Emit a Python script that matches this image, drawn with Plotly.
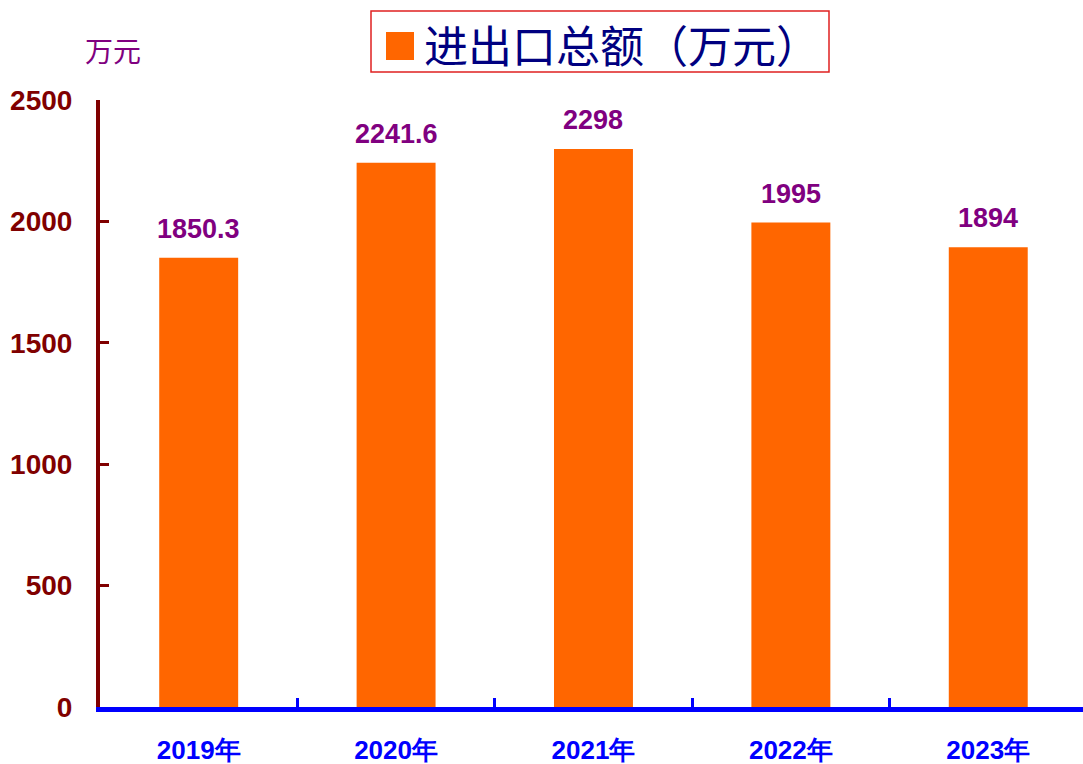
import plotly.graph_objects as go

years = ["2019年", "2020年", "2021年", "2022年", "2023年"]
values = [1850.3, 2241.6, 2298, 1995, 1894]
value_labels = ["1850.3", "2241.6", "2298", "1995", "1894"]
series_name = "进出口总额（万元）"
y_ticks = [0, 500, 1000, 1500, 2000, 2500]
unit_label = "万元"

W, H = 1083, 764
ml, mr, mt, mb = 100, 0, 100, 57
pw = W - ml - mr
ph = H - mt - mb

def px_x(p):
    return (p - ml) / pw

def px_y(p):
    return (H - mb - p) / ph

fig = go.Figure()
fig.add_trace(go.Bar(
    x=years, y=values, width=0.4,
    marker=dict(color="#FF6600", line=dict(width=0)),
    showlegend=False, name=series_name,
))

for xv, yv, lab in zip(years, values, value_labels):
    fig.add_annotation(
        x=xv, y=yv, text=lab, showarrow=False, yanchor="bottom", yshift=12,
        font=dict(family="Arial, Liberation Sans", size=27, color="#800080", weight="bold"),
    )

# legend-style box
fig.add_shape(type="rect", xref="paper", yref="paper",
              x0=px_x(371), x1=px_x(829), y0=px_y(72), y1=px_y(11),
              line=dict(color="#E02020", width=1.5), fillcolor="rgba(0,0,0,0)")
fig.add_shape(type="rect", xref="paper", yref="paper",
              x0=px_x(386), x1=px_x(414), y0=px_y(60), y1=px_y(32),
              line=dict(width=0), fillcolor="#FF6600")
fig.add_annotation(xref="paper", yref="paper", x=px_x(422), y=px_y(44),
                   xanchor="left", yanchor="middle", showarrow=False,
                   text=series_name,
                   font=dict(family="Noto Sans CJK SC", size=44, color="#000080"))
fig.add_annotation(xref="paper", yref="paper", x=px_x(113), y=px_y(50),
                   xanchor="center", yanchor="middle", showarrow=False,
                   text=unit_label,
                   font=dict(family="Noto Sans CJK SC", size=28, color="#800080"))

fig.update_layout(
    width=W, height=H,
    margin=dict(l=ml, r=mr, t=mt, b=mb, autoexpand=False),
    paper_bgcolor="white", plot_bgcolor="white",
    bargap=0.6,
    xaxis=dict(
        type="category", range=[-0.5, 4.48], automargin=False,
        showline=True, linecolor="#0000FF", linewidth=5,
        ticks="inside", tickson="boundaries", ticklen=9, tickwidth=3, tickcolor="#0000FF",
        showgrid=False, zeroline=False,
        tickfont=dict(family="Arial, Liberation Sans", size=26, color="#0000FF", weight="bold"),
        ticklabelstandoff=16,
    ),
    yaxis=dict(
        range=[0, 2500], tickvals=y_ticks, automargin=False,
        showline=True, linecolor="#800000", linewidth=4,
        ticks="inside", ticklen=9, tickwidth=3, tickcolor="#800000",
        showgrid=False, zeroline=False,
        tickfont=dict(family="Arial, Liberation Sans", size=28, color="#800000", weight="bold"),
        ticklabelstandoff=18,
    ),
)

fig.write_html("out.html", config={"displayModeBar": False},
               post_script="document.body.style.margin='0';document.body.style.overflow='hidden';")
